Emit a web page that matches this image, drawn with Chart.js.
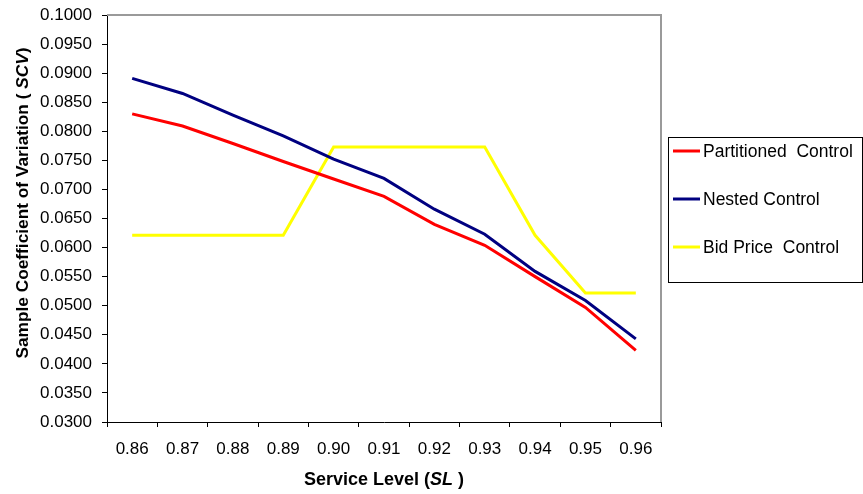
<!DOCTYPE html>
<html>
<head>
<meta charset="utf-8">
<script src="https://cdn.jsdelivr.net/npm/chart.js@4"></script>
<style>
  body { margin: 0; background: #fff; }
  canvas { display: block; }
</style>
</head>
<body>
<canvas id="myChart" width="863" height="494"></canvas>
<script>
const serviceLevels = ['0.86', '0.87', '0.88', '0.89', '0.90', '0.91', '0.92', '0.93', '0.94', '0.95', '0.96'];
const partitioned = [0.0830, 0.0809, 0.0779, 0.0748, 0.0718, 0.0688, 0.0640, 0.0604, 0.0550, 0.0497, 0.0423];
const nested      = [0.0891, 0.0865, 0.0828, 0.0792, 0.0752, 0.0719, 0.0666, 0.0623, 0.0559, 0.0509, 0.0443];
const bidPrice    = [0.0621, 0.0621, 0.0621, 0.0621, 0.0773, 0.0773, 0.0773, 0.0773, 0.0621, 0.0522, 0.0522];

const FONT = '"Liberation Sans", Arial, sans-serif';

// draws text made of pieces with different styles, centred on 0,0
function drawPieces(ctx, pieces) {
  let total = 0;
  pieces.forEach(p => { ctx.font = p.font; p.w = ctx.measureText(p.text).width; total += p.w; });
  let x = -total / 2;
  pieces.forEach(p => { ctx.font = p.font; ctx.fillText(p.text, x, 0); x += p.w; });
}

const extras = {
  id: 'extras',
  beforeDatasetsDraw(chart) {
    const ctx = chart.ctx, a = chart.chartArea;
    ctx.save();
    // grey frame on top and right of plot area
    ctx.strokeStyle = '#9a9a9a';
    ctx.lineWidth = 2;
    ctx.beginPath();
    ctx.moveTo(a.left, a.top);
    ctx.lineTo(a.right, a.top);
    ctx.lineTo(a.right, a.bottom);
    ctx.stroke();
    ctx.restore();
  },
  afterDraw(chart) {
    const ctx = chart.ctx, a = chart.chartArea;
    ctx.save();
    ctx.fillStyle = '#000';
    ctx.textAlign = 'left';
    ctx.textBaseline = 'alphabetic';

    // x axis title
    ctx.save();
    ctx.translate((a.left + a.right) / 2, 485);
    drawPieces(ctx, [
      { text: 'Service Level (', font: 'bold 18px ' + FONT },
      { text: 'SL', font: 'italic bold 18px ' + FONT },
      { text: ' )', font: 'bold 18px ' + FONT }
    ]);
    ctx.restore();

    // y axis title
    ctx.save();
    ctx.translate(28, 203);
    ctx.rotate(-Math.PI / 2);
    drawPieces(ctx, [
      { text: 'Sample Coefficient of Variation ( ', font: 'bold 17.3px ' + FONT },
      { text: 'SCV', font: 'italic bold 17.3px ' + FONT },
      { text: ')', font: 'bold 17.3px ' + FONT }
    ]);
    ctx.restore();

    // legend box
    ctx.strokeStyle = '#000';
    ctx.lineWidth = 1;
    ctx.strokeRect(668.5, 137.5, 194, 145);
    const rows = [151, 199, 247];
    chart.data.datasets.forEach((ds, i) => {
      ctx.strokeStyle = ds.borderColor;
      ctx.lineWidth = 3;
      ctx.beginPath();
      ctx.moveTo(673, rows[i]);
      ctx.lineTo(700, rows[i]);
      ctx.stroke();
      ctx.font = '17.5px ' + FONT;
      ctx.textBaseline = 'middle';
      ctx.fillText(ds.label, 703, rows[i] + 1);
    });
    ctx.restore();
  }
};

new Chart(document.getElementById('myChart'), {
  type: 'line',
  data: {
    labels: serviceLevels,
    datasets: [{
      label: 'Partitioned  Control',
      data: partitioned,
      borderColor: '#ff0000',
      borderWidth: 3,
      pointRadius: 0,
      fill: false
    }, {
      label: 'Nested Control',
      data: nested,
      borderColor: '#000080',
      borderWidth: 3,
      pointRadius: 0,
      fill: false
    }, {
      label: 'Bid Price  Control',
      data: bidPrice,
      borderColor: '#ffff00',
      borderWidth: 3,
      pointRadius: 0,
      fill: false
    }]
  },
  options: {
    responsive: false,
    animation: false,
    devicePixelRatio: 1,
    layout: { padding: { left: 0, right: 202, top: 15, bottom: 0 } },
    plugins: { legend: { display: false }, tooltip: { enabled: false } },
    scales: {
      x: {
        offset: true,
        grid: { offset: true, drawOnChartArea: false, drawTicks: true, tickLength: 5, color: '#000' },
        border: { color: '#000', width: 1 },
        ticks: { color: '#000', font: { family: FONT, size: 17 }, padding: 12, maxRotation: 0 },
        afterFit(scale) { scale.height = 72; }
      },
      y: {
        min: 0.03,
        max: 0.10,
        grid: { drawOnChartArea: false, drawTicks: true, tickLength: 5, color: '#000' },
        border: { color: '#000', width: 1 },
        ticks: {
          stepSize: 0.005,
          color: '#000',
          font: { family: FONT, size: 17 },
          padding: 10,
          callback: function(value) { return value.toFixed(4); }
        },
        afterFit(scale) {
          scale.width = 107;
          scale.paddingTop = 0;
          scale.paddingBottom = 0;
        }
      }
    }
  },
  plugins: [extras]
});
</script>
</body>
</html>
